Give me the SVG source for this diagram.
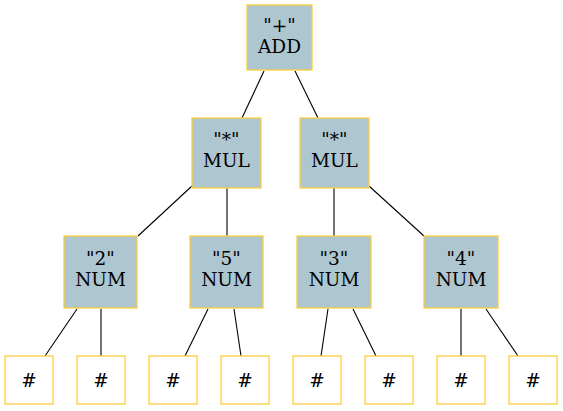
<svg xmlns="http://www.w3.org/2000/svg" width="563" height="411" viewBox="0 0 563 411">
<style>
rect.b{stroke:#fcce3e;stroke-width:1.3}
.n rect{fill:#aec6cf}
.l rect{fill:#ffffff}
text{font-family:"DejaVu Serif","Liberation Serif",serif;font-size:18.5px;fill:#000;text-anchor:middle}
#edges line{stroke:#000;stroke-width:1.1}
</style>
<rect width="563" height="411" fill="#fff"/>
<g id="edges">
<line x1="264" y1="71" x2="242" y2="118"/>
<line x1="295" y1="71" x2="318" y2="118"/>
<line x1="192" y1="186" x2="138" y2="236"/>
<line x1="227" y1="188" x2="227" y2="236"/>
<line x1="334" y1="188" x2="334" y2="236"/>
<line x1="369" y1="186" x2="424" y2="236"/>
<line x1="77" y1="309" x2="45" y2="356"/>
<line x1="101" y1="309" x2="101" y2="356"/>
<line x1="208" y1="309" x2="185" y2="356"/>
<line x1="234" y1="309" x2="241" y2="356"/>
<line x1="328" y1="309" x2="321" y2="356"/>
<line x1="353" y1="309" x2="376" y2="356"/>
<line x1="461" y1="309" x2="461" y2="356"/>
<line x1="486" y1="309" x2="518" y2="356"/>
</g>
<g id="add" class="n"><rect class="b" x="247" y="5" width="65" height="65"/><text x="279.5" y="32">"+"</text><text x="279.5" y="53">ADD</text></g>
<g id="mul1" class="n"><rect class="b" x="192" y="118" width="69" height="70"/><text x="226.5" y="146">"*"</text><text x="226.5" y="167">MUL</text></g>
<g id="mul2" class="n"><rect class="b" x="300" y="118" width="69" height="70"/><text x="334.5" y="146">"*"</text><text x="334.5" y="167">MUL</text></g>
<g id="num2" class="n"><rect class="b" x="64" y="236" width="73" height="72"/><text x="100.5" y="265">"2"</text><text x="100.5" y="286">NUM</text></g>
<g id="num5" class="n"><rect class="b" x="190" y="236" width="73" height="72"/><text x="226.5" y="265">"5"</text><text x="226.5" y="286">NUM</text></g>
<g id="num3" class="n"><rect class="b" x="297" y="236" width="74" height="72"/><text x="334" y="265">"3"</text><text x="334" y="286">NUM</text></g>
<g id="num4" class="n"><rect class="b" x="424" y="236" width="74" height="72"/><text x="461" y="265">"4"</text><text x="461" y="286">NUM</text></g>
<g id="leaf1" class="l"><rect class="b" x="5" y="356" width="48" height="48"/><text x="29" y="387">#</text></g>
<g id="leaf2" class="l"><rect class="b" x="77" y="356" width="48" height="48"/><text x="101" y="387">#</text></g>
<g id="leaf3" class="l"><rect class="b" x="149" y="356" width="48" height="48"/><text x="173" y="387">#</text></g>
<g id="leaf4" class="l"><rect class="b" x="221" y="356" width="48" height="48"/><text x="245" y="387">#</text></g>
<g id="leaf5" class="l"><rect class="b" x="293" y="356" width="48" height="48"/><text x="317" y="387">#</text></g>
<g id="leaf6" class="l"><rect class="b" x="365" y="356" width="48" height="48"/><text x="389" y="387">#</text></g>
<g id="leaf7" class="l"><rect class="b" x="437" y="356" width="48" height="48"/><text x="461" y="387">#</text></g>
<g id="leaf8" class="l"><rect class="b" x="509" y="356" width="48" height="48"/><text x="533" y="387">#</text></g>
</svg>
